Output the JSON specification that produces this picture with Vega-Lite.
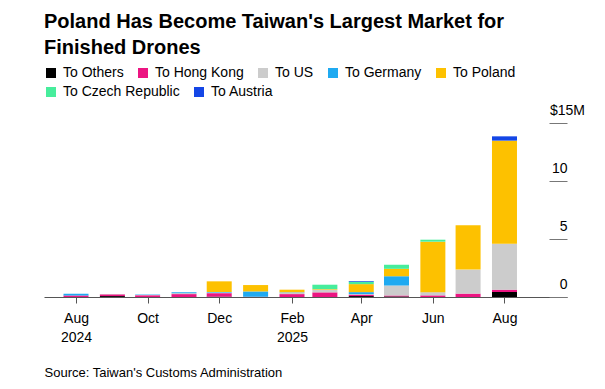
{
  "$schema": "https://vega.github.io/schema/vega-lite/v6.json",
  "width": 523,
  "height": 174,
  "autosize": {"type": "none"},
  "padding": {"left": 44, "top": 123, "right": 38, "bottom": 92},
  "background": "#ffffff",
  "title": {
    "text": ["Poland Has Become Taiwan's Largest Market for", "Finished Drones"],
    "anchor": "start",
    "font": "Liberation Sans",
    "fontSize": 20,
    "fontWeight": "bold",
    "color": "#000000",
    "lineHeight": 26,
    "offset": 8
  },
  "config": {
    "view": {"stroke": null},
    "font": "Liberation Sans",
    "legend": {
      "title": null,
      "direction": "horizontal",
      "symbolType": "square",
      "symbolSize": 100,
      "symbolStrokeWidth": 0,
      "symbolOpacity": 1,
      "labelFont": "Liberation Sans",
      "labelFontSize": 14,
      "labelColor": "#000000",
      "labelOffset": 5,
      "columnPadding": 12,
      "padding": 0
    }
  },
  "data": {
    "values": [
      {"date": "2024-08-01", "dest": "To Hong Kong", "rank": 2, "value": 0.13},
      {"date": "2024-08-01", "dest": "To Germany", "rank": 4, "value": 0.15},
      {"date": "2024-09-01", "dest": "To Others", "rank": 1, "value": 0.08},
      {"date": "2024-09-01", "dest": "To Hong Kong", "rank": 2, "value": 0.15},
      {"date": "2024-09-01", "dest": "To US", "rank": 3, "value": 0.03},
      {"date": "2024-10-01", "dest": "To Hong Kong", "rank": 2, "value": 0.15},
      {"date": "2024-10-01", "dest": "To US", "rank": 3, "value": 0.02},
      {"date": "2024-10-01", "dest": "To Germany", "rank": 4, "value": 0.04},
      {"date": "2024-11-01", "dest": "To Hong Kong", "rank": 2, "value": 0.25},
      {"date": "2024-11-01", "dest": "To US", "rank": 3, "value": 0.08},
      {"date": "2024-11-01", "dest": "To Germany", "rank": 4, "value": 0.08},
      {"date": "2024-12-01", "dest": "To Others", "rank": 1, "value": 0.03},
      {"date": "2024-12-01", "dest": "To Hong Kong", "rank": 2, "value": 0.3},
      {"date": "2024-12-01", "dest": "To US", "rank": 3, "value": 0.05},
      {"date": "2024-12-01", "dest": "To Germany", "rank": 4, "value": 0.05},
      {"date": "2024-12-01", "dest": "To Poland", "rank": 5, "value": 0.92},
      {"date": "2025-01-01", "dest": "To Hong Kong", "rank": 2, "value": 0.02},
      {"date": "2025-01-01", "dest": "To Germany", "rank": 4, "value": 0.46},
      {"date": "2025-01-01", "dest": "To Poland", "rank": 5, "value": 0.55},
      {"date": "2025-02-01", "dest": "To Hong Kong", "rank": 2, "value": 0.25},
      {"date": "2025-02-01", "dest": "To US", "rank": 3, "value": 0.13},
      {"date": "2025-02-01", "dest": "To Germany", "rank": 4, "value": 0.03},
      {"date": "2025-02-01", "dest": "To Poland", "rank": 5, "value": 0.22},
      {"date": "2025-03-01", "dest": "To Hong Kong", "rank": 2, "value": 0.4},
      {"date": "2025-03-01", "dest": "To US", "rank": 3, "value": 0.23},
      {"date": "2025-03-01", "dest": "To Poland", "rank": 5, "value": 0.05},
      {"date": "2025-03-01", "dest": "To Czech Republic", "rank": 6, "value": 0.38},
      {"date": "2025-04-01", "dest": "To Others", "rank": 1, "value": 0.08},
      {"date": "2025-04-01", "dest": "To Hong Kong", "rank": 2, "value": 0.12},
      {"date": "2025-04-01", "dest": "To US", "rank": 3, "value": 0.05},
      {"date": "2025-04-01", "dest": "To Germany", "rank": 4, "value": 0.17},
      {"date": "2025-04-01", "dest": "To Poland", "rank": 5, "value": 0.69},
      {"date": "2025-04-01", "dest": "To Czech Republic", "rank": 6, "value": 0.21},
      {"date": "2025-04-01", "dest": "To Austria", "rank": 7, "value": 0.06},
      {"date": "2025-05-01", "dest": "To Others", "rank": 1, "value": 0.05},
      {"date": "2025-05-01", "dest": "To Hong Kong", "rank": 2, "value": 0.08},
      {"date": "2025-05-01", "dest": "To US", "rank": 3, "value": 0.86},
      {"date": "2025-05-01", "dest": "To Germany", "rank": 4, "value": 0.8},
      {"date": "2025-05-01", "dest": "To Poland", "rank": 5, "value": 0.64},
      {"date": "2025-05-01", "dest": "To Czech Republic", "rank": 6, "value": 0.35},
      {"date": "2025-06-01", "dest": "To Hong Kong", "rank": 2, "value": 0.14},
      {"date": "2025-06-01", "dest": "To US", "rank": 3, "value": 0.28},
      {"date": "2025-06-01", "dest": "To Poland", "rank": 5, "value": 4.35},
      {"date": "2025-06-01", "dest": "To Czech Republic", "rank": 6, "value": 0.17},
      {"date": "2025-07-01", "dest": "To Hong Kong", "rank": 2, "value": 0.29},
      {"date": "2025-07-01", "dest": "To US", "rank": 3, "value": 2.07},
      {"date": "2025-07-01", "dest": "To Poland", "rank": 5, "value": 3.82},
      {"date": "2025-08-01", "dest": "To Others", "rank": 1, "value": 0.43},
      {"date": "2025-08-01", "dest": "To Hong Kong", "rank": 2, "value": 0.2},
      {"date": "2025-08-01", "dest": "To US", "rank": 3, "value": 3.97},
      {"date": "2025-08-01", "dest": "To Poland", "rank": 5, "value": 8.88},
      {"date": "2025-08-01", "dest": "To Austria", "rank": 7, "value": 0.37}
    ]
  },
  "encoding": {
    "x": {
      "field": "date",
      "type": "temporal",
      "scale": {
        "type": "utc",
        "domain": [
          {"year": 2024, "month": 7, "date": 9, "utc": true},
          {"year": 2025, "month": 9, "date": 19, "utc": true}
        ]
      },
      "axis": {
        "values": [
          {"year": 2024, "month": 8, "date": 1, "utc": true},
          {"year": 2024, "month": 10, "date": 1, "utc": true},
          {"year": 2024, "month": 12, "date": 1, "utc": true},
          {"year": 2025, "month": 2, "date": 1, "utc": true},
          {"year": 2025, "month": 4, "date": 1, "utc": true},
          {"year": 2025, "month": 6, "date": 1, "utc": true},
          {"year": 2025, "month": 8, "date": 1, "utc": true}
        ],
        "labelExpr": "(utcmonth(datum.value) == 7 && utcyear(datum.value) == 2024) || utcmonth(datum.value) == 1 ? [utcFormat(datum.value, '%b'), utcFormat(datum.value, '%Y')] : utcFormat(datum.value, '%b')",
        "labelFont": "Liberation Sans",
        "labelFontSize": 14,
        "labelColor": "#000000",
        "labelLineHeight": 19,
        "labelPadding": 8,
        "labelFlush": false,
        "grid": false,
        "domainColor": "#555555",
        "domainWidth": 1,
        "tickColor": "#555555",
        "tickSize": 6,
        "title": "Source: Taiwan's Customs Administration",
        "titleAnchor": "start",
        "titleAlign": "left",
        "titleFont": "Liberation Sans",
        "titleFontSize": 13,
        "titleFontWeight": "normal",
        "titleColor": "#000000",
        "titlePadding": 22
      }
    },
    "y": {
      "field": "value",
      "type": "quantitative",
      "aggregate": "sum",
      "stack": "zero",
      "scale": {"domain": [0, 15], "nice": false},
      "axis": {
        "orient": "right",
        "values": [0, 5, 10, 15],
        "labelExpr": "datum.value == 15 ? '$15M' : datum.label",
        "labelFont": "Liberation Sans",
        "labelFontSize": 14,
        "labelColor": "#000000",
        "labelAlign": {"condition": {"test": "datum.value == 15", "value": "center"}, "value": "right"},
        "labelBaseline": "middle",
        "labelOffset": -13,
        "labelPadding": 18,
        "tickSize": -18,
        "tickColor": "#777777",
        "domain": false,
        "grid": false,
        "title": null
      }
    },
    "order": {"field": "rank", "type": "quantitative", "sort": "ascending"}
  },
  "layer": [
    {
      "mark": {"type": "bar", "size": 25},
      "encoding": {
        "color": {
          "field": "dest",
          "type": "nominal",
          "scale": {
            "domain": ["To Others", "To Hong Kong", "To US", "To Germany", "To Poland", "To Czech Republic", "To Austria"],
            "range": ["#000000", "#ec1582", "#cccccc", "#1faaf1", "#fdc100", "#47ed9c", "#1446e6"]
          },
          "legend": {
            "orient": "none",
            "legendX": 0,
            "legendY": -57,
            "values": ["To Others", "To Hong Kong", "To US", "To Germany", "To Poland"]
          }
        }
      }
    },
    {
      "transform": [{"filter": "datum.dest == 'To Czech Republic' || datum.dest == 'To Austria'"}],
      "mark": {"type": "bar", "size": 25, "opacity": 0},
      "encoding": {
        "fill": {
          "field": "dest",
          "type": "nominal",
          "scale": {
            "domain": ["To Czech Republic", "To Austria"],
            "range": ["#47ed9c", "#1446e6"]
          },
          "legend": {
            "orient": "none",
            "legendX": 0,
            "legendY": -38,
            "symbolOpacity": 1
          }
        }
      }
    }
  ]
}
